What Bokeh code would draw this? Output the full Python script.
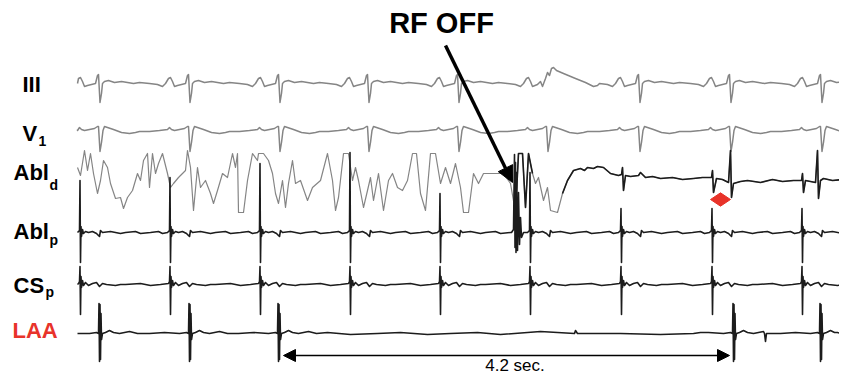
import math
from bokeh.plotting import figure
from bokeh.models import Range1d, Arrow, NormalHead, ColumnDataSource
from bokeh.core.properties import value
from bokeh.embed import file_html
from bokeh.resources import INLINE

# ---------------- data (x in samples, FS samples per second; amplitudes in display units, up = +) -------------
FS = 108.3
TRACE_END = 778

ATRIAL = [3, 93, 183, 273, 363, 453, 544, 635, 725]
QRS = [22, 112, 202, 291, 381, 470, 562, 653, 744]
QRS_KIND = ["n", "n", "n", "n", "n", "w", "n", "n", "n"]
LAA_SPIKES = [22, 112, 201, 656, 743]
RF_OFF = 435
MARK = 643

CHANNEL_LABELS = ["III", "V", "Abl", "Abl", "CS", "LAA"]
CHANNEL_SUBS = ["", "1", "d", "p", "p", ""]

# lead III beat shapes
III_N_T = [-40, -32, -27, -24, -21, -19, -17, -15, -12, -8, -4, -2, -1, 0.5, 2, 3, 5, 9, 15, 22, 28, 34, 40]
III_N_A = [0, -1, -3, 0, 5, 6, 2, -3, -2, -1, 0, 8, 9, -19, -10, 0, 2, 3, 1, 2, 1, 0, 1]
III_W_T = [-40, -32, -27, -24, -21, -19, -17, -15, -10, -7, -5, -2, 0, 2, 4, 6, 9, 16, 28, 38, 46, 50]
III_W_A = [0, -1, -3, 0, 5, 6, 2, -3, -1, 2, -3, 5, 11, 8, 15, 16, 13, 10, 5, 1, -3, -2]

# lead V1 beat shape
V1_T = [-40, -30, -22, -20, -18, -15, -10, -5, -2, -1, 0.5, 2, 3.5, 5, 8, 14, 22, 30, 36, 40]
V1_A = [-1, 0, 1, 3, 1, 0, 1, 2, 4, 4, -21, -12, 0, 4, 3, 1, -2, -3, -2, -1]

# Abl distal: full recording
ABL_D_T = [0, 3, 7, 10, 13, 16, 20, 23, 26, 30, 33, 38, 43, 46, 50, 55, 60, 63, 66, 70, 72, 75, 78, 81, 85,
           90, 93, 96, 101, 108, 110, 113, 116, 120, 123, 128, 133, 136, 140, 145, 150, 155, 158, 160, 161,
           166, 170, 175, 180, 181, 186, 191, 195, 198, 201, 205, 208, 211, 215, 218, 223, 230, 235, 243, 250,
           255, 258, 261, 266, 271, 275, 278, 281, 286, 290, 293, 296, 301, 306, 311, 315, 320, 325, 330, 335,
           339, 343, 348, 353, 358, 363, 368, 373, 378, 383, 386, 391, 396, 401, 406, 413, 420, 426, 433, 438,
           441, 445, 448, 451, 455, 458, 461, 466, 470, 473, 480, 485, 490, 496, 503, 507, 510, 516, 520, 526,
           533, 541, 544, 545, 546, 548, 553, 561, 563, 568, 575, 583, 595, 605, 616, 625, 634, 635, 636, 639,
           645, 651, 653, 654, 656, 663, 670, 683, 695, 705, 716, 724, 725, 726, 728, 738, 740, 741, 743, 746,
           755, 765, 778]
ABL_D_A = [13, 5, 30, 10, 27, 7, -13, 0, 20, 13, -3, -18, -17, -28, -17, -10, 7, 0, 20, 27, -7, 27, 7, 17, 27,
           7, -7, -3, 3, 10, 30, 13, -30, 13, -7, 0, -13, -23, -10, 7, 3, 27, 13, 27, -32,
           -32, 0, 27, 20, 27, 27, 20, 7, -13, -23, 0, -27, -3, 20, -3, 0, -20, -7, 0, 27,
           0, -30, -17, 27, 27, 0, 13, 0, -27, -10, 3, -20, 7, -30, 0, 7, -7, -10, 0, 27,
           27, -13, -30, 27, 27, -3, 13, -3, 17, -7, -32, -32, 7, -3, 7, 7, 7, 7, -3, -32,
           27, 27, -27, 27, 7, -3, 3, -20, -7, -30, -32, -13, 0, 10, 12, 10, 13, 12, 14, 13,
           7, 5, 6, 13, -10, 5, 4, 5, 8, 3, 4, 2, 3, 1, 2, 3, 3, 10, -12, 2,
           1, -2, 30, -17, -3, -1, 0, -2, 1, -1, 0, 0, 7, -12, 0, -2, 30, -18, 0, 2,
           0, 1, 0]
ABL_D_DARK = [(436, 456), (485, TRACE_END)]

# Abl proximal beat shape + per-beat spike heights + RF-off artefact
ABL_P_T = [-45, -35, -30, -20, -12, -8, -3, -1, 0, 0.5, 1, 2, 3, 5, 8, 12, 16, 19, 20, 22, 30, 40]
ABL_P_A = [0, 1, -1, 0, 1, -1, 0, 2, -30, 6, -4, 3, -1, 1, 0, 1, -1, -4, 2, 0, 1, -1]
ABL_P_UP = [52, 55, 69, 80, 39, 60, 24, 24, 24]
ART_T = [434, 436, 437, 437.5, 438, 438.5, 439, 440, 441, 442, 443, 444, 446]
ART_A = [0, 3, 78, -15, 70, -20, 60, -18, 40, -12, 15, -5, 0]

# CS proximal beat shape
CS_P_T = [-45, -30, -20, -10, -2, -1, -0.5, 0, 0.5, 1, 2, 3, 5, 8, 12, 16, 19, 22, 26, 35, 40]
CS_P_A = [0, 1, -1, 0, 1, 3, 18, -30, 8, -3, 4, -1, 2, -1, 1, 2, -2, 1, 0, -1, 0]

# LAA beat shape and baseline wiggles
LAA_T = [-40, -25, -10, -3, -1, -0.5, 0, 0.5, 1, 1.5, 2, 3, 6, 10, 14, 20, 30, 38]
LAA_A = [0, 1, 0, 1, 0, 30, -28, 29, -26, 20, -6, 0, 1, 3, 1, 0, 2, 0]
LAA_WIG_T = [250, 273, 300, 323, 350, 373, 400, 423, 463, 497, 498, 500, 543, 583, 623, 687, 688, 689, 760]
LAA_WIG_A = [1, -1, 0, 1, -1, 0, 1, -1, 2, 0, 3, 0, 0, -1, 1, 0, -8, 0, 1]

# ---------------- layout ----------------
BASE = {"III": 83, "V1": 130, "Abl_d": 180, "Abl_p": 232, "CS_p": 284, "LAA": 333}
LABEL_POS = [(-55, 83.5), (-55, 133), (-64, 172), (-64, 231), (-64, 284.5), (-65, 329.5)]
SUB_POS = [(0, 0), (-39, 140), (-28, 184), (-28, 239), (-32, 291), (0, 0)]
GRAY = "#858585"
DARK = "#1c1c1c"
RED = "#e8332a"


def build(beats, tt, aa, kinds=None, alt=None, spikes=None, spike_off=-0.5, replace=None, add=None):
    pts = []
    for i, b in enumerate(beats):
        t_, a_ = (tt, aa)
        if kinds is not None and kinds[i] == "w":
            t_, a_ = alt
        pts += [(b + t, a) for t, a in zip(t_, a_)]
    if spikes is not None:
        pts += [(b + spike_off, s) for b, s in zip(beats, spikes)]
    if replace is not None:
        lo, hi = min(replace[0]), max(replace[0])
        pts = [p for p in pts if not (lo <= p[0] <= hi)]
        pts += list(zip(*replace))
    if add is not None:
        pts += list(zip(*add))
    pts += [(0, 0), (TRACE_END, 0)]
    pts = [p for p in pts if 0 <= p[0] <= TRACE_END]
    pts.sort(key=lambda p: p[0])
    return [p[0] for p in pts], [p[1] for p in pts]


def place(xs, ys, ch):
    return xs, [-BASE[ch] + y for y in ys]


p = figure(width=839, height=376, x_range=Range1d(-77, 762), y_range=Range1d(-376, 0),
           output_backend="svg", toolbar_location=None, min_border=0)
p.axis.visible = False
p.grid.visible = False
p.outline_line_color = None
p.background_fill_color = "white"

# III (with the one different beat)
x, y = build(QRS, III_N_T, III_N_A, kinds=QRS_KIND, alt=(III_W_T, III_W_A))
x, y = place(x, y, "III")
p.line(x, y, line_color=GRAY, line_width=1.5, line_join="round")

# V1
x, y = build(QRS, V1_T, V1_A)
x, y = place(x, y, "V1")
p.line(x, y, line_color=GRAY, line_width=1.5, line_join="round")

# Abl distal
x, y = place(ABL_D_T, ABL_D_A, "Abl_d")
p.line(x, y, line_color=GRAY, line_width=1.2, line_join="round")
for lo, hi in ABL_D_DARK:
    sx = [a for a in x if lo <= a <= hi]
    sy = [b for a, b in zip(x, y) if lo <= a <= hi]
    p.line(sx, sy, line_color=DARK, line_width=1.6, line_join="round")

# Abl proximal
x, y = build(ATRIAL, ABL_P_T, ABL_P_A, spikes=ABL_P_UP, replace=(ART_T, ART_A))
x, y = place(x, y, "Abl_p")
p.line(x, y, line_color=DARK, line_width=1.6, line_join="round")

# CS proximal
x, y = build(ATRIAL, CS_P_T, CS_P_A)
x, y = place(x, y, "CS_p")
p.line(x, y, line_color=DARK, line_width=1.6, line_join="round")

# LAA
x, y = build(LAA_SPIKES, LAA_T, LAA_A, add=(LAA_WIG_T, LAA_WIG_A))
x, y = place(x, y, "LAA")
p.line(x, y, line_color=DARK, line_width=1.6, line_join="round")

# channel labels
colors = ["black"] * (len(CHANNEL_LABELS) - 1) + [RED]
lab = ColumnDataSource(dict(x=[q[0] for q in LABEL_POS], y=[-q[1] for q in LABEL_POS],
                            t=CHANNEL_LABELS, c=colors))
p.text(x="x", y="y", text="t", text_color="c", source=lab, text_font=value("Liberation Sans"),
       text_font_style="bold", text_font_size="22px", text_align="left", text_baseline="middle")
sub_idx = [i for i, s in enumerate(CHANNEL_SUBS) if s]
sub = ColumnDataSource(dict(x=[SUB_POS[i][0] for i in sub_idx], y=[-SUB_POS[i][1] for i in sub_idx],
                            t=[CHANNEL_SUBS[i] for i in sub_idx]))
p.text(x="x", y="y", text="t", source=sub, text_color="black", text_font=value("Liberation Sans"),
       text_font_style="bold", text_font_size="14px", text_align="left", text_baseline="middle")

# RF OFF annotation
p.text(x=[RF_OFF - 71], y=[-22.5], text=["RF OFF"], text_font=value("Liberation Sans"), text_font_style="bold",
       text_font_size="29px", text_align="center", text_baseline="middle", text_color="black")
p.add_layout(Arrow(end=NormalHead(size=16, fill_color="black", line_color="black"),
                   x_start=RF_OFF - 67, y_start=-45, x_end=RF_OFF, y_end=-182,
                   line_width=3.5, line_color="black"))

# red marker
p.scatter(x=[MARK], y=[-199], marker="diamond", size=20, angle=math.pi / 2,
          fill_color=RED, line_color=RED)

# pause interval
pause_s = (LAA_SPIKES[3] - LAA_SPIKES[2]) / FS
p.add_layout(Arrow(start=NormalHead(size=12, fill_color="black", line_color="black"),
                   end=NormalHead(size=12, fill_color="black", line_color="black"),
                   x_start=LAA_SPIKES[2] + 5, y_start=-355, x_end=LAA_SPIKES[3] - 4, y_end=-355,
                   line_width=1.6, line_color="black"))
p.text(x=[(LAA_SPIKES[2] + LAA_SPIKES[3]) / 2 + 9], y=[-365], text=[f"{pause_s:.1f} sec."],
       text_font=value("Liberation Sans"), text_font_size="17px", text_align="center",
       text_baseline="middle", text_color="black")

open("out.html", "w").write(file_html(p, INLINE))
